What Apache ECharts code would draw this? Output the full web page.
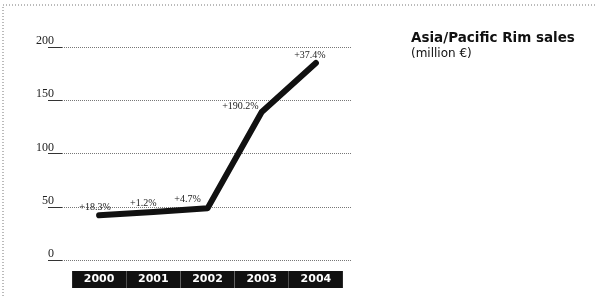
<!DOCTYPE html>
<html>
<head>
<meta charset="utf-8">
<script src="https://cdn.jsdelivr.net/npm/echarts@6/dist/echarts.min.js"></script>
<style>
  html, body { margin: 0; padding: 0; background: #fff; }
  #main { width: 595px; height: 297px; }
</style>
</head>
<body>
<div id="main"></div>
<script>
// Asia/Pacific Rim sales, million EUR
var years = ["2000", "2001", "2002", "2003", "2004"];
var sales = [42, 45, 48.5, 139, 185];
var growth = ["+18.3%", "+1.2%", "+4.7%", "+190.2%", "+37.4%"];
var yTicks = [0, 50, 100, 150, 200];

var myChart = echarts.init(document.getElementById("main"));

// where each growth label sits next to its point
var labelPos = [
  { position: "top", offset: [-4, 2] },
  { position: "top", offset: [-10, 1] },
  { position: "top", offset: [-20, 1] },
  { position: "left", offset: [2, -6] },
  { position: "top", offset: [-6, 2] }
];

var seriesData = sales.map(function (v, i) {
  return {
    value: v,
    label: {
      show: true,
      position: labelPos[i].position,
      offset: labelPos[i].offset,
      formatter: growth[i]
    }
  };
});

myChart.setOption({
  animation: false,
  title: {
    text: "Asia/Pacific Rim sales",
    subtext: "(million €)",
    left: 411,
    top: 31,
    itemGap: 3,
    padding: 0,
    textStyle: {
      fontFamily: "DejaVu Sans",
      fontSize: 13.5,
      fontWeight: "bold",
      color: "#111"
    },
    subtextStyle: {
      fontFamily: "DejaVu Sans",
      fontSize: 12,
      color: "#111"
    }
  },
  graphic: [
    {
      type: "rect",
      shape: { x: 3, y: 5, width: 640, height: 320 },
      style: { fill: "none", stroke: "#777", lineWidth: 1, lineDash: [1, 2] },
      silent: true
    }
  ],
  grid: [
    // grid 0: value axis with the dotted guide lines
    { left: 48, right: 243, top: 47, bottom: 37 },
    // grid 1: the categories and the line
    { left: 72, right: 252, top: 47, bottom: 37 }
  ],
  xAxis: [
    {
      gridIndex: 0,
      type: "category",
      data: years,
      show: false
    },
    {
      gridIndex: 1,
      type: "category",
      data: years,
      boundaryGap: true,
      axisLine: { show: false },
      axisTick: { show: false },
      axisLabel: {
        interval: 0,
        hideOverlap: false,
        margin: 11,
        color: "#fff",
        backgroundColor: "#111",
        width: 54,
        height: 17,
        lineHeight: 17,
        align: "center",
        fontFamily: "DejaVu Sans",
        fontSize: 11,
        fontWeight: "bold"
      }
    }
  ],
  yAxis: [
    {
      gridIndex: 0,
      type: "value",
      min: yTicks[0],
      max: yTicks[yTicks.length - 1],
      interval: 50,
      axisLine: { show: false },
      axisTick: {
        show: true,
        inside: true,
        length: 14,
        lineStyle: { color: "#333", width: 1 }
      },
      axisLabel: {
        margin: -6,
        align: "right",
        verticalAlign: "bottom",
        color: "#222",
        fontFamily: "Liberation Serif",
        fontSize: 12
      },
      splitLine: {
        show: true,
        lineStyle: { color: "#777", type: "dotted", width: 1 }
      }
    },
    {
      gridIndex: 1,
      type: "value",
      min: yTicks[0],
      max: yTicks[yTicks.length - 1],
      show: false,
      splitLine: { show: false }
    }
  ],
  series: [
    {
      name: "sales",
      type: "line",
      xAxisIndex: 1,
      yAxisIndex: 1,
      data: seriesData,
      symbol: "circle",
      symbolSize: 2,
      showSymbol: true,
      itemStyle: { color: "#111" },
      lineStyle: { color: "#111", width: 6, cap: "round", join: "round" },
      label: {
        show: true,
        distance: 4,
        color: "#222",
        fontFamily: "Liberation Serif",
        fontSize: 10
      }
    }
  ]
});
</script>
</body>
</html>
